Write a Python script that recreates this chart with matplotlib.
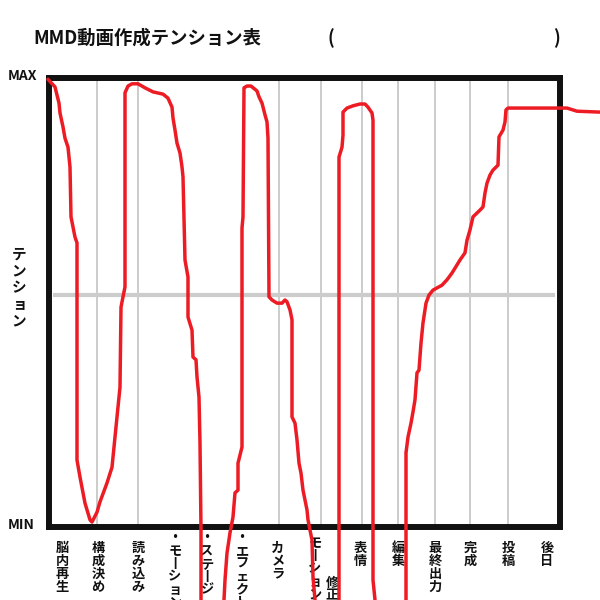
"""MMD動画作成テンション表 (hand-drawn tension chart)."""

import matplotlib
matplotlib.use("Agg")
import matplotlib.pyplot as plt

plt.rcParams["font.family"] = ["Noto Sans CJK JP", "DejaVu Sans"]

RED = "#ed1c24"
GRID = "#cccccc"
INK = "#111111"

# stages along the bottom: label text, x position (progress units)
stage_labels = ["脳内再生", "構成決め", "読み込み", "・モーション", "・ステージ", "・エフェクト",
                "カメラ", "モーション", "修正", "表情", "編集", "最終出力", "完成", "投稿", "後日"]
stage_x = [13, 49, 89, 126, 158, 193, 229, 266, 283, 311, 349, 386, 421, 459, 498]
stage_top = [541, 541, 541, 531, 531, 531, 541, 536, 576, 541, 541, 541, 541, 541, 541]

# gray column dividers (progress units)
divider_x = [48, 89, 230, 272, 313, 349, 386, 421, 459]
middle_level = 51.6

# the red hand-drawn tension curve, in four strokes (progress, tension 0-100)
stroke1_x = [-1, 6, 10, 11, 14, 16, 19, 21, 22, 26, 28, 28, 31, 36, 41, 43, 48, 51, 58, 63,
             66, 69, 71, 72, 74, 76, 76, 79, 83, 89, 96, 104, 114, 119, 123, 124, 126, 128,
             131, 133, 134, 136, 139, 139, 143, 144, 147, 148, 150, 151, 152, 152]
stroke1_y = [99.6, 97.9, 94.3, 92.1, 89.0, 86.5, 84.5, 80.1, 69.0, 64.5, 63.2, 14.9, 11.1,
             5.3, 1.6, 1.1, 3.3, 5.6, 9.8, 13.3, 20.0, 26.7, 31.1, 48.9, 51.2, 53.4, 96.6,
             98.1, 98.6, 98.6, 97.7, 96.8, 96.3, 95.4, 93.4, 91.0, 88.3, 85.4, 83.2, 80.1,
             77.9, 59.4, 55.6, 46.7, 43.8, 37.8, 37.2, 33.4, 28.9, 18.7, -0.7, -16.2]

stroke2_x = [175, 176, 178, 181, 184, 186, 189, 189, 193, 193, 194, 195, 198, 202, 208, 210,
             213, 216, 218, 219, 220, 223, 228, 233, 236, 238, 241, 243, 243, 246, 248, 250,
             252, 254, 258, 259, 261, 263, 264, 266]
stroke2_y = [-16.2, -11.8, -5.8, -1.3, 2.2, 7.6, 8.2, 14.2, 17.8, 66.5, 69.0, 97.7, 98.1,
             98.1, 97.0, 95.7, 94.3, 91.7, 90.1, 86.5, 51.2, 50.5, 49.8, 49.8, 50.5, 50.1,
             48.3, 46.1, 24.5, 23.1, 19.4, 14.2, 12.0, 8.2, 3.8, 1.6, -0.7, -2.9, -11.1, -16.2]

stroke3_x = [290, 290, 293, 294, 294, 298, 304, 311, 316, 319, 323, 324, 324, 326]
stroke3_y = [-16.2, 82.3, 84.5, 87.2, 92.3, 93.2, 93.7, 94.1, 94.1, 93.4, 92.1, 90.5,
             -11.8, -16.2]

stroke4_x = [357, 357, 359, 362, 364, 366, 368, 370, 372, 374, 377, 380, 384, 393, 398, 403,
             411, 416, 418, 421, 424, 431, 434, 436, 438, 441, 444, 449, 450, 454, 456, 457,
             459, 511, 518, 528, 551]
stroke4_y = [-16.2, 16.5, 20.0, 23.1, 25.6, 28.3, 34.3, 34.9, 40.9, 45.4, 49.8, 51.6, 52.7,
             53.8, 55.0, 56.5, 59.4, 61.0, 63.8, 66.1, 69.0, 70.5, 71.2, 74.3, 76.5, 78.3,
             79.4, 80.5, 86.8, 88.3, 90.1, 92.8, 93.2, 93.2, 93.2, 92.5, 92.3]

strokes = [(stroke1_x, stroke1_y), (stroke2_x, stroke2_y),
           (stroke3_x, stroke3_y), (stroke4_x, stroke4_y)]


def vertical(text):
    # stack characters top to bottom; the long vowel mark turns upright
    return "\n".join("丨" if ch == "ー" else ch for ch in text)


fig = plt.figure(figsize=(6, 6), dpi=100)
ax = fig.add_axes([49 / 600, 73 / 600, 510.5 / 600, 449.5 / 600])
ax.set_xlim(0, 510.5)
ax.set_ylim(0, 100)
ax.set_xticks([])
ax.set_yticks([])
for spine in ax.spines.values():
    spine.set_linewidth(4.3)
    spine.set_color(INK)

for x in divider_x:
    ax.axvline(x, color=GRID, linewidth=1.4, zorder=1)
ax.hlines(middle_level, 4, 506, color=GRID, linewidth=3, zorder=1)

for xs, ys in strokes:
    ax.plot(xs, ys, color=RED, linewidth=2.5, clip_on=False, zorder=5,
            solid_joinstyle="round", solid_capstyle="round")

# stage labels, stacked vertically under the box
for label, x, top in zip(stage_labels, stage_x, stage_top):
    ax.text(x, (527 - top) / 449.5, vertical(label), transform=ax.get_xaxis_transform(),
            ha="center", va="top", fontsize=9.5, fontweight="bold", linespacing=0.9,
            color=INK)

fig.text(33 / 600, 1 - 38 / 600, "MMD動画作成テンション表", fontsize=13.2,
         fontweight="bold", va="center", ha="left", color=INK)
fig.text(331 / 600, 1 - 38 / 600, "(", fontsize=13, fontweight="bold",
         va="center", ha="center", color=INK)
fig.text(556 / 600, 1 - 38 / 600, ")", fontsize=13, fontweight="bold",
         va="center", ha="center", color=INK)

fig.text(8 / 600, 1 - 76 / 600, "MAX", fontsize=10, fontweight="bold",
         va="center", ha="left", color=INK)
fig.text(8 / 600, 1 - 525 / 600, "MIN", fontsize=10, fontweight="bold",
         va="center", ha="left", color=INK)
fig.text(19 / 600, 1 - 287 / 600, vertical("テンション"), fontsize=10.5,
         fontweight="bold", va="center", ha="center", linespacing=1.06, color=INK)

fig.savefig("out.png", dpi=100)
